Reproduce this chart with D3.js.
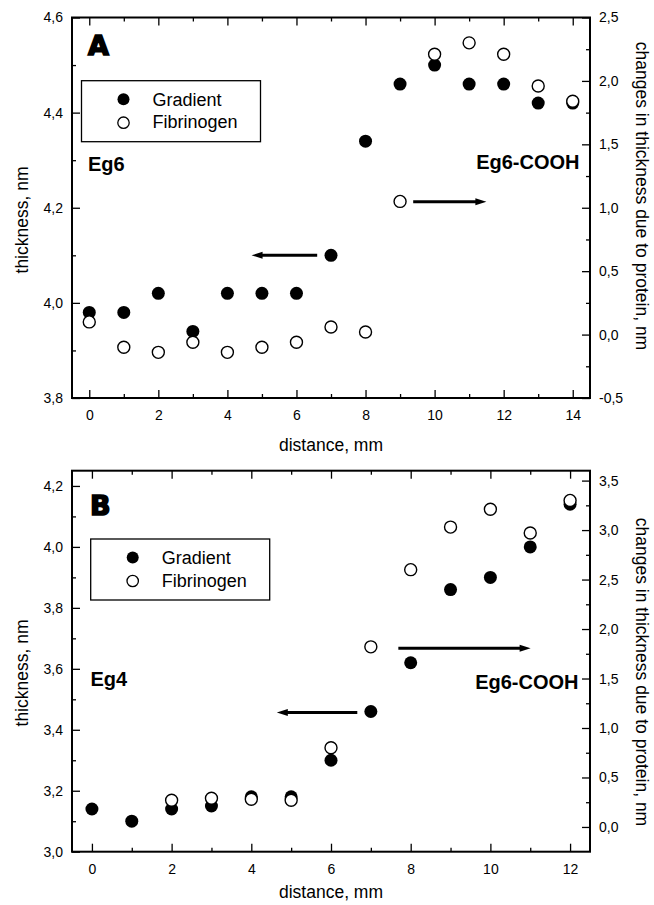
<!DOCTYPE html>
<html>
<head>
<meta charset="UTF-8">
<title>Thickness gradient</title>
<script src="https://cdn.jsdelivr.net/npm/d3@7"></script>
<style>
  body { margin: 0; background: #fff; }
  svg { font-family: "Liberation Sans", Arial, sans-serif; }
</style>
</head>
<body>
<script>
var w = 654;
var h = 905;

// panel A
var distA = [0, 1, 2, 3, 4, 5, 6, 7, 8, 9, 10, 11, 12, 13, 14];
var gradientA = [3.98, 3.98, 4.02, 3.94, 4.02, 4.02, 4.02, 4.10, 4.34, 4.46, 4.50, 4.46, 4.46, 4.42, 4.42];
var fibrinogenA = [0.10, -0.10, -0.14, -0.06, -0.14, -0.10, -0.06, 0.06, 0.02, 1.05, 2.21, 2.30, 2.21, 1.96, 1.84];
var xTicksA = [0, 2, 4, 6, 8, 10, 12, 14];
var leftTicksA = [3.8, 4.0, 4.2, 4.4, 4.6];
var rightTicksA = [-0.5, 0.0, 0.5, 1.0, 1.5, 2.0, 2.5];

// panel B
var distB = [0, 1, 2, 3, 4, 5, 6, 7, 8, 9, 10, 11, 12];
var gradientB = [3.14, 3.10, 3.14, 3.15, 3.18, 3.18, 3.30, 3.46, 3.62, 3.86, 3.90, 4.00, 4.14];
var distFibB = [2, 3, 4, 5, 6, 7, 8, 9, 10, 11, 12];
var fibrinogenB = [0.27, 0.29, 0.28, 0.27, 0.80, 1.82, 2.60, 3.03, 3.21, 2.97, 3.30];
var xTicksB = [0, 2, 4, 6, 8, 10, 12];
var leftTicksB = [3.0, 3.2, 3.4, 3.6, 3.8, 4.0, 4.2];
var rightTicksB = [0.0, 0.5, 1.0, 1.5, 2.0, 2.5, 3.0, 3.5];

var seriesNames = ["Gradient", "Fibrinogen"];

var loc = d3.formatLocale({decimal: ",", thousands: ".", grouping: [3], currency: ["", ""], minus: "-"});
var f1 = loc.format(".1f");

var svg = d3.select("body").append("svg")
    .attr("width", w)
    .attr("height", h);

svg.append("rect").attr("width", w).attr("height", h).attr("fill", "#fff");

function minorVals(major) {
  var out = [];
  for (var i = 0; i < major.length - 1; i++) out.push((major[i] + major[i + 1]) / 2);
  return out;
}

function arrow(g, x1, x2, y) {
  var dir = x2 > x1 ? 1 : -1;
  g.append("line")
    .attr("x1", x1).attr("x2", x2 - dir * 8)
    .attr("y1", y).attr("y2", y)
    .attr("stroke", "#000").attr("stroke-width", 3);
  g.append("path")
    .attr("d", "M" + x2 + "," + y + "L" + (x2 - dir * 11) + "," + (y - 3.5) + "L" + (x2 - dir * 11) + "," + (y + 3.5) + "Z")
    .attr("fill", "#000");
}

function panel(p) {
  var g = svg.append("g");
  var left = 72, right = 590;

  var x = d3.scaleLinear().domain(p.xDom).range([left, right]);
  var yl = d3.scaleLinear().domain(p.ylDom).range([p.bottom, p.top]);
  var yr = d3.scaleLinear().domain(p.yrDom).range([p.bottom, p.top]);

  var xMinor = p.dist.filter(function(d) { return p.xTicks.indexOf(d) < 0; });
  var lMinor = minorVals(p.leftTicks);
  var rMinor = minorVals(p.rightTicks);

  function style(sel) {
    sel.select(".domain").remove();
    sel.selectAll("line").attr("stroke", "#000").attr("stroke-width", 1.3);
    sel.attr("font-family", null).attr("font-size", 14);
    sel.selectAll("text").attr("fill", "#000");
  }

  // bottom / top x ticks
  g.append("g").attr("transform", "translate(0," + p.bottom + ")")
    .call(d3.axisBottom(x).tickValues(p.xTicks).tickSizeInner(-8).tickSizeOuter(0).tickPadding(12).tickFormat(d3.format("d")))
    .call(style);
  g.append("g").attr("transform", "translate(0," + p.bottom + ")")
    .call(d3.axisBottom(x).tickValues(xMinor).tickSizeInner(-4).tickSizeOuter(0).tickFormat(""))
    .call(style);
  g.append("g").attr("transform", "translate(0," + p.top + ")")
    .call(d3.axisTop(x).tickValues(p.xTicks).tickSizeInner(-8).tickSizeOuter(0).tickFormat(""))
    .call(style);
  g.append("g").attr("transform", "translate(0," + p.top + ")")
    .call(d3.axisTop(x).tickValues(xMinor).tickSizeInner(-4).tickSizeOuter(0).tickFormat(""))
    .call(style);

  // left axis
  g.append("g").attr("transform", "translate(" + left + ",0)")
    .call(d3.axisLeft(yl).tickValues(p.leftTicks).tickSizeInner(-8).tickSizeOuter(0).tickPadding(9).tickFormat(f1))
    .call(style);
  g.append("g").attr("transform", "translate(" + left + ",0)")
    .call(d3.axisLeft(yl).tickValues(lMinor).tickSizeInner(-4).tickSizeOuter(0).tickFormat(""))
    .call(style);

  // right axis
  g.append("g").attr("transform", "translate(" + right + ",0)")
    .call(d3.axisRight(yr).tickValues(p.rightTicks).tickSizeInner(-8).tickSizeOuter(0).tickPadding(9).tickFormat(f1))
    .call(style);
  g.append("g").attr("transform", "translate(" + right + ",0)")
    .call(d3.axisRight(yr).tickValues(rMinor).tickSizeInner(-4).tickSizeOuter(0).tickFormat(""))
    .call(style);

  // frame
  g.append("rect")
    .attr("x", left).attr("y", p.top)
    .attr("width", right - left).attr("height", p.bottom - p.top)
    .attr("fill", "none").attr("stroke", "#000").attr("stroke-width", 2);

  // axis titles
  g.append("text")
    .attr("transform", "translate(28," + p.leftTitleY + ") rotate(-90)")
    .attr("text-anchor", "middle").attr("font-size", 17.5)
    .text("thickness, nm");
  g.append("text")
    .attr("transform", "translate(636," + p.rightTitleY + ") rotate(90)")
    .attr("text-anchor", "middle").attr("font-size", 17.5)
    .text("changes in thickness due to protein, nm");
  g.append("text")
    .attr("x", (left + right) / 2).attr("y", p.xTitleY)
    .attr("text-anchor", "middle").attr("font-size", 17.5)
    .text("distance, mm");

  // panel letter and labels
  g.append("text")
    .attr("x", p.letterX).attr("y", p.letterY)
    .attr("font-family", "DejaVu Sans").attr("font-weight", "bold").attr("font-size", 27)
    .attr("stroke", "#000").attr("stroke-width", 1.6)
    .text(p.letter);
  g.append("text")
    .attr("x", p.leftLabel[0]).attr("y", p.leftLabel[1])
    .attr("font-weight", "bold").attr("font-size", 20)
    .text(p.leftName);
  g.append("text")
    .attr("x", p.rightLabel[0]).attr("y", p.rightLabel[1])
    .attr("text-anchor", "end").attr("font-weight", "bold").attr("font-size", 20)
    .text("Eg6-COOH");

  // arrows
  arrow(g, x(p.arrowL[0]), x(p.arrowL[1]), yl(p.arrowL[2]));
  arrow(g, x(p.arrowR[0]), x(p.arrowR[1]), yr(p.arrowR[2]));

  // data
  g.append("g").selectAll("circle")
    .data(p.gradient)
    .enter().append("circle")
      .attr("cx", function(d, i) { return x(p.dist[i]); })
      .attr("cy", function(d) { return yl(d); })
      .attr("r", 6.5)
      .attr("fill", "#000");

  g.append("g").selectAll("circle")
    .data(p.fibrinogen)
    .enter().append("circle")
      .attr("cx", function(d, i) { return x(p.fibDist[i]); })
      .attr("cy", function(d) { return yr(d); })
      .attr("r", 6)
      .attr("fill", "#fff")
      .attr("stroke", "#000")
      .attr("stroke-width", 1.4);

  // legend
  var lg = g.append("g").attr("transform", "translate(" + p.legend[0] + "," + p.legend[1] + ")");
  lg.append("rect")
    .attr("width", 179).attr("height", 61)
    .attr("fill", "#fff").attr("stroke", "#000").attr("stroke-width", 1.3);
  seriesNames.forEach(function(name, i) {
    lg.append("circle")
      .attr("cx", 42).attr("cy", 18.5 + i * 23.5)
      .attr("r", i === 0 ? 6 : 5.7)
      .attr("fill", i === 0 ? "#000" : "#fff")
      .attr("stroke", "#000").attr("stroke-width", i === 0 ? 0 : 1.3);
    lg.append("text")
      .attr("x", 71).attr("y", 25 + i * 22.5)
      .attr("font-size", 18)
      .text(name);
  });
}

panel({
  top: 17.5, bottom: 398,
  xDom: [-0.5, 14.5], ylDom: [3.8, 4.6], yrDom: [-0.5, 2.5],
  dist: distA, fibDist: distA, gradient: gradientA, fibrinogen: fibrinogenA,
  xTicks: xTicksA, leftTicks: leftTicksA, rightTicks: rightTicksA,
  leftTitleY: 220, rightTitleY: 196, xTitleY: 451,
  letter: "A", letterX: 88, letterY: 54.5,
  leftName: "Eg6", leftLabel: [88, 170.5], rightLabel: [579.5, 168.5],
  arrowL: [6.6, 4.7, 4.10], arrowR: [9.38, 11.5, 1.047],
  legend: [81.5, 80.7]
});

panel({
  top: 470.7, bottom: 851.7,
  xDom: [-0.5, 12.5], ylDom: [3.0, 4.25], yrDom: [-0.25, 3.6],
  dist: distB, fibDist: distFibB, gradient: gradientB, fibrinogen: fibrinogenB,
  xTicks: xTicksB, leftTicks: leftTicksB, rightTicks: rightTicksB,
  leftTitleY: 673, rightTitleY: 672, xTitleY: 898,
  letter: "B", letterX: 90, letterY: 515,
  leftName: "Eg4", leftLabel: [90.5, 686], rightLabel: [578.5, 688.5],
  arrowL: [6.66, 4.64, 3.457], arrowR: [7.69, 11.01, 1.805],
  legend: [90.7, 539]
});
</script>
</body>
</html>
